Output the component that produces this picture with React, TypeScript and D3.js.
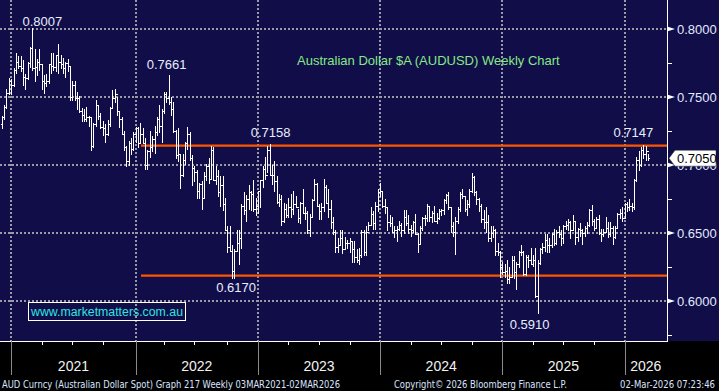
import React from 'react';
import * as d3 from 'd3';

// ---------- DATA ----------
const firstWeek = new Date(2020, 10, 27); // first weekly bar (Friday)
const firstOpen = 0.73;

// weekly highs (Nov 2020 -> Mar 2026)
const weeklyHigh = [
  0.7360, 0.7440, 0.7560, 0.7640, 0.7630,
  0.7710, 0.7820, 0.7800, 0.7800, 0.7770, 0.7670, 0.7760, 0.7870, 0.8007, 0.7850, 0.7780, 0.7850, 0.7740, 0.7660, 0.7670, 0.7740, 0.7820, 0.7820, 0.7810, 0.7890, 0.7810, 0.7790, 0.7760, 0.7780, 0.7730, 0.7620, 0.7620, 0.7540, 0.7510, 0.7420, 0.7410, 0.7430, 0.7360, 0.7350, 0.7310, 0.7480, 0.7440, 0.7380, 0.7320, 0.7300, 0.7330, 0.7430, 0.7550, 0.7560, 0.7500, 0.7400, 0.7350, 0.7250, 0.7140, 0.7180, 0.7200, 0.7240, 0.7280,
  0.7280, 0.7310, 0.7270, 0.7200, 0.7110, 0.7250, 0.7210, 0.7290, 0.7350, 0.7440, 0.7410, 0.7540, 0.7540, 0.7661, 0.7500, 0.7460, 0.7260, 0.7270, 0.7080, 0.7080, 0.7170, 0.7280, 0.7240, 0.7070, 0.6990, 0.6960, 0.6870, 0.6880, 0.6950, 0.7010, 0.7050, 0.7137, 0.7130, 0.6990, 0.6960, 0.6920, 0.6920, 0.6760, 0.6550, 0.6550, 0.6410, 0.6380, 0.6520, 0.6520, 0.6710, 0.6800, 0.6780, 0.6850, 0.6810, 0.6890, 0.6760, 0.6810,
  0.6890, 0.6990, 0.7060, 0.7140, 0.7158, 0.7000, 0.7030, 0.6920, 0.6790, 0.6780, 0.6720, 0.6710, 0.6760, 0.6790, 0.6810, 0.6770, 0.6680, 0.6730, 0.6820, 0.6690, 0.6660, 0.6640, 0.6750, 0.6900, 0.6870, 0.6710, 0.6720, 0.6895, 0.6850, 0.6820, 0.6740, 0.6620, 0.6520, 0.6460, 0.6520, 0.6520, 0.6470, 0.6450, 0.6460, 0.6440, 0.6440, 0.6380, 0.6390, 0.6520, 0.6520, 0.6550, 0.6580, 0.6690, 0.6660, 0.6730, 0.6820, 0.6871,
  0.6810, 0.6750, 0.6690, 0.6630, 0.6620, 0.6550, 0.6550, 0.6590, 0.6570, 0.6670, 0.6670, 0.6630, 0.6560, 0.6590, 0.6640, 0.6500, 0.6550, 0.6620, 0.6630, 0.6710, 0.6690, 0.6660, 0.6700, 0.6650, 0.6680, 0.6680, 0.6750, 0.6790, 0.6800, 0.6690, 0.6580, 0.6620, 0.6690, 0.6800, 0.6820, 0.6770, 0.6740, 0.6820, 0.6942, 0.6920, 0.6810, 0.6760, 0.6710, 0.6670, 0.6690, 0.6630, 0.6550, 0.6550, 0.6530, 0.6430, 0.6370, 0.6290,
  0.6270, 0.6300, 0.6250, 0.6330, 0.6330, 0.6290, 0.6370, 0.6410, 0.6370, 0.6340, 0.6340, 0.6390, 0.6340, 0.6390, 0.6300, 0.6390, 0.6430, 0.6490, 0.6490, 0.6460, 0.6500, 0.6530, 0.6520, 0.6550, 0.6520, 0.6560, 0.6590, 0.6600, 0.6590, 0.6630, 0.6590, 0.6540, 0.6570, 0.6530, 0.6550, 0.6580, 0.6680, 0.6707, 0.6600, 0.6620, 0.6630, 0.6530, 0.6530, 0.6620, 0.6580, 0.6580, 0.6550, 0.6550, 0.6650, 0.6680, 0.6690, 0.6720,
  0.6730, 0.6750, 0.6720, 0.6900, 0.7060, 0.7100, 0.7130, 0.7147, 0.7140, 0.7080,
];

// weekly lows
const weeklyLow = [
  0.7270, 0.7340, 0.7420, 0.7520, 0.7520,
  0.7580, 0.7680, 0.7710, 0.7690, 0.7590, 0.7560, 0.7630, 0.7720, 0.7700, 0.7620, 0.7660, 0.7700, 0.7560, 0.7530, 0.7580, 0.7600, 0.7680, 0.7700, 0.7690, 0.7680, 0.7710, 0.7680, 0.7650, 0.7690, 0.7480, 0.7480, 0.7480, 0.7410, 0.7390, 0.7320, 0.7320, 0.7320, 0.7290, 0.7110, 0.7130, 0.7290, 0.7340, 0.7270, 0.7220, 0.7170, 0.7220, 0.7290, 0.7420, 0.7460, 0.7370, 0.7280, 0.7230, 0.7110, 0.6990, 0.7000, 0.7080, 0.7110, 0.7170,
  0.7130, 0.7160, 0.7160, 0.6970, 0.6970, 0.7060, 0.7100, 0.7090, 0.7220, 0.7240, 0.7170, 0.7380, 0.7460, 0.7450, 0.7370, 0.7240, 0.7050, 0.7030, 0.6830, 0.6920, 0.7010, 0.7120, 0.7040, 0.6850, 0.6880, 0.6760, 0.6760, 0.6680, 0.6760, 0.6890, 0.6870, 0.6900, 0.6890, 0.6860, 0.6770, 0.6700, 0.6670, 0.6520, 0.6360, 0.6370, 0.6170, 0.6170, 0.6370, 0.6270, 0.6390, 0.6640, 0.6590, 0.6680, 0.6670, 0.6660, 0.6630, 0.6650,
  0.6690, 0.6840, 0.6900, 0.6950, 0.6930, 0.6860, 0.6810, 0.6720, 0.6700, 0.6560, 0.6580, 0.6620, 0.6620, 0.6620, 0.6640, 0.6690, 0.6580, 0.6570, 0.6650, 0.6600, 0.6500, 0.6480, 0.6620, 0.6740, 0.6700, 0.6600, 0.6600, 0.6660, 0.6720, 0.6620, 0.6540, 0.6490, 0.6360, 0.6360, 0.6410, 0.6350, 0.6390, 0.6390, 0.6360, 0.6290, 0.6290, 0.6290, 0.6270, 0.6320, 0.6340, 0.6340, 0.6520, 0.6560, 0.6530, 0.6530, 0.6660, 0.6770,
  0.6690, 0.6650, 0.6520, 0.6550, 0.6510, 0.6470, 0.6440, 0.6520, 0.6480, 0.6500, 0.6560, 0.6500, 0.6480, 0.6510, 0.6490, 0.6360, 0.6420, 0.6520, 0.6560, 0.6590, 0.6590, 0.6580, 0.6590, 0.6570, 0.6600, 0.6630, 0.6640, 0.6720, 0.6680, 0.6510, 0.6480, 0.6349, 0.6570, 0.6660, 0.6760, 0.6660, 0.6630, 0.6690, 0.6800, 0.6780, 0.6710, 0.6660, 0.6580, 0.6540, 0.6510, 0.6440, 0.6440, 0.6470, 0.6340, 0.6340, 0.6180, 0.6200,
  0.6180, 0.6130, 0.6130, 0.6180, 0.6170, 0.6090, 0.6250, 0.6340, 0.6190, 0.6190, 0.6250, 0.6270, 0.6260, 0.6030, 0.5914, 0.6270, 0.6350, 0.6370, 0.6360, 0.6360, 0.6400, 0.6410, 0.6420, 0.6470, 0.6410, 0.6430, 0.6530, 0.6520, 0.6460, 0.6520, 0.6420, 0.6440, 0.6480, 0.6420, 0.6480, 0.6500, 0.6550, 0.6560, 0.6520, 0.6540, 0.6490, 0.6440, 0.6480, 0.6510, 0.6470, 0.6480, 0.6420, 0.6460, 0.6540, 0.6610, 0.6590, 0.6610,
  0.6660, 0.6670, 0.6660, 0.6680, 0.6880, 0.6960, 0.6990, 0.7050, 0.7040, 0.7040,
];

// weekly closes
const weeklyClose = [
  0.7350, 0.7430, 0.7530, 0.7615, 0.7590,
  0.7700, 0.7760, 0.7730, 0.7710, 0.7650, 0.7640, 0.7750, 0.7860, 0.7710, 0.7720, 0.7760, 0.7740, 0.7620, 0.7600, 0.7620, 0.7740, 0.7730, 0.7720, 0.7810, 0.7760, 0.7740, 0.7710, 0.7750, 0.7730, 0.7500, 0.7590, 0.7490, 0.7490, 0.7400, 0.7370, 0.7340, 0.7350, 0.7350, 0.7140, 0.7300, 0.7440, 0.7360, 0.7280, 0.7270, 0.7230, 0.7300, 0.7420, 0.7490, 0.7520, 0.7400, 0.7340, 0.7230, 0.7130, 0.7030, 0.7160, 0.7120, 0.7230, 0.7270,
  0.7160, 0.7230, 0.7160, 0.7000, 0.7100, 0.7130, 0.7190, 0.7240, 0.7340, 0.7290, 0.7400, 0.7520, 0.7490, 0.7460, 0.7410, 0.7250, 0.7070, 0.7080, 0.6930, 0.7040, 0.7160, 0.7230, 0.7050, 0.6980, 0.6950, 0.6810, 0.6860, 0.6760, 0.6920, 0.6990, 0.6900, 0.7110, 0.6890, 0.6920, 0.6800, 0.6850, 0.6710, 0.6520, 0.6400, 0.6370, 0.6220, 0.6370, 0.6430, 0.6460, 0.6700, 0.6670, 0.6750, 0.6800, 0.6790, 0.6680, 0.6700, 0.6810,
  0.6890, 0.6970, 0.6930, 0.7110, 0.6930, 0.6930, 0.6880, 0.6730, 0.6750, 0.6590, 0.6680, 0.6630, 0.6690, 0.6680, 0.6710, 0.6690, 0.6610, 0.6720, 0.6650, 0.6650, 0.6520, 0.6620, 0.6740, 0.6860, 0.6700, 0.6660, 0.6690, 0.6840, 0.6720, 0.6680, 0.6580, 0.6510, 0.6400, 0.6410, 0.6460, 0.6380, 0.6430, 0.6430, 0.6440, 0.6380, 0.6320, 0.6300, 0.6340, 0.6510, 0.6360, 0.6510, 0.6560, 0.6640, 0.6570, 0.6700, 0.6800, 0.6810,
  0.6700, 0.6690, 0.6580, 0.6570, 0.6510, 0.6520, 0.6530, 0.6560, 0.6520, 0.6620, 0.6570, 0.6530, 0.6520, 0.6580, 0.6490, 0.6420, 0.6540, 0.6610, 0.6610, 0.6700, 0.6620, 0.6650, 0.6590, 0.6610, 0.6660, 0.6670, 0.6740, 0.6780, 0.6690, 0.6550, 0.6510, 0.6590, 0.6680, 0.6790, 0.6770, 0.6680, 0.6710, 0.6810, 0.6910, 0.6800, 0.6750, 0.6700, 0.6600, 0.6580, 0.6580, 0.6460, 0.6500, 0.6520, 0.6370, 0.6360, 0.6250, 0.6210,
  0.6220, 0.6160, 0.6180, 0.6300, 0.6210, 0.6270, 0.6360, 0.6360, 0.6200, 0.6320, 0.6300, 0.6270, 0.6300, 0.6040, 0.6280, 0.6380, 0.6400, 0.6450, 0.6410, 0.6410, 0.6490, 0.6430, 0.6510, 0.6490, 0.6460, 0.6550, 0.6560, 0.6580, 0.6520, 0.6590, 0.6470, 0.6530, 0.6520, 0.6500, 0.6540, 0.6560, 0.6670, 0.6590, 0.6540, 0.6600, 0.6500, 0.6490, 0.6510, 0.6540, 0.6490, 0.6540, 0.6470, 0.6540, 0.6640, 0.6650, 0.6610, 0.6710,
  0.6690, 0.6700, 0.6690, 0.6890, 0.7040, 0.7000, 0.7110, 0.7080, 0.7100, 0.7050,
];

const yTickValues = [0.8, 0.75, 0.7, 0.65, 0.6];
const yMinorValues = [0.775, 0.725, 0.675, 0.625, 0.575];
const years = [2021, 2022, 2023, 2024, 2025, 2026];
const resistanceLevel = 0.7142;
const supportLevel = 0.6186;
const lastPrice = 0.705;
const calloutText = ['0.8007', '0.7661', '0.7158', '0.6170', '0.5910', '0.7147'];
const calloutWeek = [13, 71, 114, 98, 228, 273];
const calloutAbove = [true, true, true, false, false, true];
const chartTitle = 'Australian Dollar $A (AUDUSD) Weekly Chart';
const watermark = 'www.marketmatters.com.au';
const footerLeft = 'AUD Curncy (Australian Dollar Spot) Graph 217 Weekly 03MAR2021-02MAR2026';
const footerMid = 'Copyright\u00A9 2026 Bloomberg Finance L.P.';
const footerRight = '02-Mar-2026 07:23:46';

// ---------- LAYOUT ----------
const W = 719;
const H = 391;
const plotRight = 667;
const plotBottom = 341;
const calloutDx = [10, -2, 1, 4, -8, -10];
const calloutDy = [-2, -6, -6.5, 14, 16, -8];

const FONT = 'Arial, "Liberation Sans", Helvetica, sans-serif';
const NAVY = '#100D48';

export default function App() {
  const weekDates = weeklyClose.map((_, i) => d3.timeDay.offset(firstWeek, i * 7));
  const bars = weeklyClose.map((c, i) => ({
    date: weekDates[i],
    open: i === 0 ? firstOpen : weeklyClose[i - 1],
    high: weeklyHigh[i],
    low: weeklyLow[i],
    close: c,
  }));

  const x = d3
    .scaleTime()
    .domain([weekDates[0], weekDates[weekDates.length - 1]])
    .range([1.75, 1.75 + (weekDates.length - 1) * 2.35]);
  const y = d3.scaleLinear().domain([0.6, 0.8]).range([301, 29]);

  // year / quarter separators at last bar before the boundary
  const lastBarBefore = (d: Date) => {
    let best = weekDates[0];
    for (const w of weekDates) if (w < d) best = w;
    return x(best);
  };
  const yearX = years.map((yr) => lastBarBefore(new Date(yr, 0, 1)));
  const quarterX: number[] = [];
  years.forEach((yr) => {
    [3, 6, 9].forEach((m) => {
      const d = new Date(yr, m, 1);
      if (d < weekDates[weekDates.length - 1]) quarterX.push(lastBarBefore(d));
    });
  });
  const yearCenters = yearX.map((xx, i) => (xx + (i < yearX.length - 1 ? yearX[i + 1] : plotRight)) / 2);

  const px = (v: number) => Math.round(v) + 0.5;
  let barPath = '';
  bars.forEach((b) => {
    const cx = px(x(b.date));
    barPath += `M${cx},${Math.round(y(b.high))}V${Math.round(y(b.low)) + 1}`;
    barPath += `M${cx - 1.5},${Math.round(y(b.open)) + 0.5}H${cx}`;
    barPath += `M${cx},${Math.round(y(b.close)) + 0.5}H${cx + 1.5}`;
  });

  const lineStart = 141;
  const yLast = y(lastPrice);

  return (
    <svg
      width={W}
      height={H}
      style={{ position: 'fixed', left: 0, top: 0, display: 'block' }}
      fontFamily={FONT}
    >
      <rect x={0} y={0} width={W} height={plotBottom} fill={NAVY} />
      <rect x={0} y={plotBottom} width={W} height={H - plotBottom} fill="#000" />

      {/* grid */}
      <g stroke="#9a9aa6" strokeWidth={2} strokeDasharray="2 2">
        {yTickValues.map((v) => (
          <line key={'h' + v} x1={0} x2={plotRight} y1={Math.round(y(v))} y2={Math.round(y(v))} />
        ))}
        {yearX.map((xx, i) => (
          <line key={'v' + i} x1={Math.round(xx)} x2={Math.round(xx)} y1={0} y2={plotBottom} />
        ))}
      </g>

      {/* support / resistance */}
      <g stroke="#FF5500" strokeWidth={2.2}>
        <line x1={lineStart} x2={plotRight} y1={y(resistanceLevel)} y2={y(resistanceLevel)} />
        <line x1={lineStart} x2={plotRight} y1={y(supportLevel)} y2={y(supportLevel)} />
      </g>

      {/* OHLC bars */}
      <path d={barPath} stroke="#fff" strokeWidth={1} fill="none" shapeRendering="crispEdges" />

      {/* title */}
      <text x={297} y={65} fontSize={13} fill="#86E886">
        {chartTitle}
      </text>

      {/* callouts */}
      {calloutText.map((t, i) => {
        const b = bars[calloutWeek[i]];
        const cx = x(b.date) + calloutDx[i];
        const cy = (calloutAbove[i] ? y(b.high) : y(b.low)) + calloutDy[i];
        return (
          <text key={t} x={cx} y={cy} fontSize={13} fill="#E8EEFF" textAnchor="middle">
            {t}
          </text>
        );
      })}

      {/* watermark */}
      <rect x={28.5} y={302.5} width={157} height={18} fill="none" stroke="#fff" strokeWidth={1} />
      <text x={31} y={316} fontSize={12.5} fill="#2EE4E4" textLength={152} lengthAdjust="spacingAndGlyphs">
        {watermark}
      </text>

      {/* right axis */}
      <line x1={plotRight + 0.5} x2={plotRight + 0.5} y1={0} y2={plotBottom} stroke="#fff" strokeWidth={1} />
      {yMinorValues.map((v) => (
        <line
          key={'m' + v}
          x1={plotRight}
          x2={plotRight + 5}
          y1={Math.round(y(v)) + 0.5}
          y2={Math.round(y(v)) + 0.5}
          stroke="#fff"
          strokeWidth={1}
        />
      ))}
      {yTickValues.map((v) => (
        <g key={'t' + v}>
          <polygon
            points={`${plotRight},${y(v) - 2.5} ${plotRight},${y(v) + 2.5} ${plotRight + 8},${y(v)}`}
            fill="#fff"
          />
          <text x={677} y={y(v) + 4.7} fontSize={13} fill="#E2EAFF">
            {d3.format('.4f')(v)}
          </text>
        </g>
      ))}

      {/* last price tag */}
      <polygon
        points={`${plotRight + 2},${yLast} ${plotRight + 8},${yLast - 8} ${716},${yLast - 8} ${716},${yLast + 8} ${plotRight + 8},${yLast + 8}`}
        fill="#fff"
        stroke="#222"
        strokeWidth={0.5}
      />
      <text x={677} y={yLast + 4.7} fontSize={13} fill="#000">
        {d3.format('.4f')(lastPrice)}
      </text>

      {/* bottom axis */}
      <line x1={0} x2={plotRight + 1} y1={plotBottom + 0.5} y2={plotBottom + 0.5} stroke="#fff" strokeWidth={1} />
      {yearX.map((xx, i) => (
        <line key={'yt' + i} x1={px(xx)} x2={px(xx)} y1={plotBottom} y2={375} stroke="#8a8a8a" strokeWidth={1} />
      ))}
      {quarterX.map((xx, i) => (
        <line key={'qt' + i} x1={px(xx)} x2={px(xx)} y1={plotBottom} y2={plotBottom + 4} stroke="#fff" strokeWidth={1} />
      ))}
      {years.map((yr, i) => (
        <text key={'yl' + yr} x={yearCenters[i]} y={371} fontSize={14} fill="#F2F2F2" textAnchor="middle">
          {String(yr)}
        </text>
      ))}

      {/* footer */}
      <g fontSize={10.5} fill="#DCE4FF" fontFamily='"DejaVu Sans", sans-serif'>
        <text x={2} y={388} textLength={338} lengthAdjust="spacingAndGlyphs">
          {footerLeft}
        </text>
        <text x={394} y={388} textLength={173} lengthAdjust="spacingAndGlyphs">
          {footerMid}
        </text>
        <text x={620} y={388} textLength={95} lengthAdjust="spacingAndGlyphs">
          {footerRight}
        </text>
      </g>
    </svg>
  );
}
